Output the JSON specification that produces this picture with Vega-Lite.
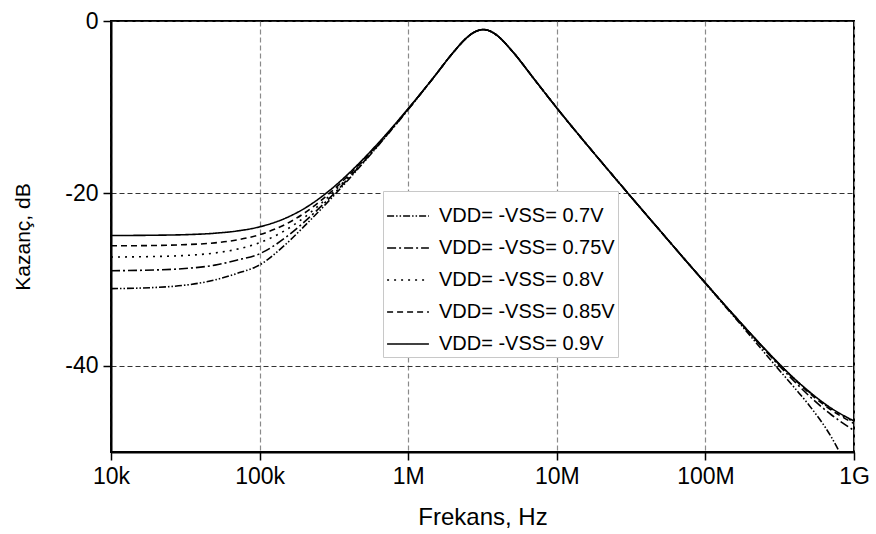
{
  "$schema": "https://vega.github.io/schema/vega-lite/v6.json",
  "autosize": "none",
  "width": 743,
  "height": 431,
  "padding": {"left": 111, "top": 21, "right": 22, "bottom": 82},
  "background": "white",
  "config": {
    "font": "Liberation Sans",
    "view": {"stroke": "black", "strokeWidth": 2},
    "axis": {
      "domainColor": "black", "domainWidth": 2,
      "tickColor": "black", "tickWidth": 1.5, "tickSize": 8,
      "labelFont": "Liberation Sans", "labelFontSize": 23, "labelColor": "black",
      "titleFont": "Liberation Sans", "titleFontSize": 24, "titleFontWeight": "normal", "titleColor": "black"
    }
  },
  "data": {"values": [
    {"f":1e4,"db":-31.05,"s":"0.7"},{"f":2e4,"db":-30.91,"s":"0.7"},{"f":3e4,"db":-30.69,"s":"0.7"},{"f":5e4,"db":-30.04,"s":"0.7"},{"f":7e4,"db":-29.3,"s":"0.7"},{"f":1e5,"db":-28.3,"s":"0.7"},{"f":1.5e5,"db":-25.9,"s":"0.7"},{"f":2e5,"db":-23.8,"s":"0.7"},{"f":3e5,"db":-20.67,"s":"0.7"},{"f":4e5,"db":-18.32,"s":"0.7"},{"f":5e5,"db":-16.44,"s":"0.7"},{"f":7e5,"db":-13.5,"s":"0.7"},{"f":1e6,"db":-10.27,"s":"0.7"},
    {"f":1.5e6,"db":-6.44,"s":"0.7"},{"f":2e6,"db":-3.69,"s":"0.7"},{"f":2.5e6,"db":-1.88,"s":"0.7"},{"f":2.8e6,"db":-1.27,"s":"0.7"},{"f":3.2e6,"db":-1.0,"s":"0.7"},{"f":3.6e6,"db":-1.21,"s":"0.7"},{"f":4e6,"db":-1.73,"s":"0.7"},{"f":5e6,"db":-3.47,"s":"0.7"},{"f":7e6,"db":-6.68,"s":"0.7"},{"f":1e7,"db":-10.09,"s":"0.7"},{"f":1.5e7,"db":-13.8,"s":"0.7"},{"f":2e7,"db":-16.37,"s":"0.7"},{"f":3e7,"db":-19.95,"s":"0.7"},{"f":5e7,"db":-24.41,"s":"0.7"},{"f":7e7,"db":-27.34,"s":"0.7"},
    {"f":1e8,"db":-30.45,"s":"0.7"},{"f":1.5e8,"db":-33.97,"s":"0.7"},{"f":2e8,"db":-36.5,"s":"0.7"},{"f":3e8,"db":-40.1,"s":"0.7"},{"f":4e8,"db":-42.6,"s":"0.7"},{"f":5e8,"db":-44.6,"s":"0.7"},{"f":7e8,"db":-48.2,"s":"0.7"},{"f":1e9,"db":-53.5,"s":"0.7"},

    {"f":1e4,"db":-28.97,"s":"0.75"},{"f":2e4,"db":-28.88,"s":"0.75"},{"f":3e4,"db":-28.74,"s":"0.75"},{"f":5e4,"db":-28.32,"s":"0.75"},{"f":7e4,"db":-27.75,"s":"0.75"},{"f":1e5,"db":-27.0,"s":"0.75"},{"f":1.5e5,"db":-25.1,"s":"0.75"},{"f":2e5,"db":-23.3,"s":"0.75"},{"f":3e5,"db":-20.43,"s":"0.75"},{"f":4e5,"db":-18.18,"s":"0.75"},{"f":5e5,"db":-16.35,"s":"0.75"},{"f":7e5,"db":-13.46,"s":"0.75"},{"f":1e6,"db":-10.25,"s":"0.75"},
    {"f":1.5e6,"db":-6.44,"s":"0.75"},{"f":2e6,"db":-3.69,"s":"0.75"},{"f":2.5e6,"db":-1.88,"s":"0.75"},{"f":2.8e6,"db":-1.27,"s":"0.75"},{"f":3.2e6,"db":-1.0,"s":"0.75"},{"f":3.6e6,"db":-1.21,"s":"0.75"},{"f":4e6,"db":-1.73,"s":"0.75"},{"f":5e6,"db":-3.47,"s":"0.75"},{"f":7e6,"db":-6.68,"s":"0.75"},{"f":1e7,"db":-10.09,"s":"0.75"},{"f":1.5e7,"db":-13.8,"s":"0.75"},{"f":2e7,"db":-16.37,"s":"0.75"},{"f":3e7,"db":-19.95,"s":"0.75"},{"f":5e7,"db":-24.41,"s":"0.75"},{"f":7e7,"db":-27.34,"s":"0.75"},
    {"f":1e8,"db":-30.41,"s":"0.75"},{"f":1.5e8,"db":-33.88,"s":"0.75"},{"f":2e8,"db":-36.3,"s":"0.75"},{"f":3e8,"db":-39.63,"s":"0.75"},{"f":4e8,"db":-41.86,"s":"0.75"},{"f":5e8,"db":-43.5,"s":"0.75"},{"f":7e8,"db":-45.65,"s":"0.75"},{"f":1e9,"db":-47.5,"s":"0.75"},

    {"f":1e4,"db":-27.38,"s":"0.8"},{"f":2e4,"db":-27.32,"s":"0.8"},{"f":3e4,"db":-27.22,"s":"0.8"},{"f":5e4,"db":-26.91,"s":"0.8"},{"f":7e4,"db":-26.49,"s":"0.8"},{"f":1e5,"db":-25.72,"s":"0.8"},{"f":1.5e5,"db":-24.25,"s":"0.8"},{"f":2e5,"db":-22.78,"s":"0.8"},{"f":3e5,"db":-20.17,"s":"0.8"},{"f":4e5,"db":-18.03,"s":"0.8"},{"f":5e5,"db":-16.24,"s":"0.8"},{"f":7e5,"db":-13.4,"s":"0.8"},{"f":1e6,"db":-10.23,"s":"0.8"},
    {"f":1.5e6,"db":-6.44,"s":"0.8"},{"f":2e6,"db":-3.69,"s":"0.8"},{"f":2.5e6,"db":-1.88,"s":"0.8"},{"f":2.8e6,"db":-1.27,"s":"0.8"},{"f":3.2e6,"db":-1.0,"s":"0.8"},{"f":3.6e6,"db":-1.21,"s":"0.8"},{"f":4e6,"db":-1.73,"s":"0.8"},{"f":5e6,"db":-3.47,"s":"0.8"},{"f":7e6,"db":-6.68,"s":"0.8"},{"f":1e7,"db":-10.09,"s":"0.8"},{"f":1.5e7,"db":-13.8,"s":"0.8"},{"f":2e7,"db":-16.37,"s":"0.8"},{"f":3e7,"db":-19.95,"s":"0.8"},{"f":5e7,"db":-24.41,"s":"0.8"},{"f":7e7,"db":-27.34,"s":"0.8"},
    {"f":1e8,"db":-30.39,"s":"0.8"},{"f":1.5e8,"db":-33.83,"s":"0.8"},{"f":2e8,"db":-36.22,"s":"0.8"},{"f":3e8,"db":-39.46,"s":"0.8"},{"f":4e8,"db":-41.57,"s":"0.8"},{"f":5e8,"db":-43.07,"s":"0.8"},{"f":7e8,"db":-45.0,"s":"0.8"},{"f":1e9,"db":-46.5,"s":"0.8"},

    {"f":1e4,"db":-26.08,"s":"0.85"},{"f":2e4,"db":-26.04,"s":"0.85"},{"f":3e4,"db":-25.96,"s":"0.85"},{"f":5e4,"db":-25.74,"s":"0.85"},{"f":7e4,"db":-25.41,"s":"0.85"},{"f":1e5,"db":-24.79,"s":"0.85"},{"f":1.5e5,"db":-23.57,"s":"0.85"},{"f":2e5,"db":-22.29,"s":"0.85"},{"f":3e5,"db":-19.89,"s":"0.85"},{"f":4e5,"db":-17.86,"s":"0.85"},{"f":5e5,"db":-16.13,"s":"0.85"},{"f":7e5,"db":-13.34,"s":"0.85"},{"f":1e6,"db":-10.2,"s":"0.85"},
    {"f":1.5e6,"db":-6.44,"s":"0.85"},{"f":2e6,"db":-3.69,"s":"0.85"},{"f":2.5e6,"db":-1.88,"s":"0.85"},{"f":2.8e6,"db":-1.27,"s":"0.85"},{"f":3.2e6,"db":-1.0,"s":"0.85"},{"f":3.6e6,"db":-1.21,"s":"0.85"},{"f":4e6,"db":-1.73,"s":"0.85"},{"f":5e6,"db":-3.47,"s":"0.85"},{"f":7e6,"db":-6.68,"s":"0.85"},{"f":1e7,"db":-10.09,"s":"0.85"},{"f":1.5e7,"db":-13.8,"s":"0.85"},{"f":2e7,"db":-16.37,"s":"0.85"},{"f":3e7,"db":-19.95,"s":"0.85"},{"f":5e7,"db":-24.41,"s":"0.85"},{"f":7e7,"db":-27.34,"s":"0.85"},
    {"f":1e8,"db":-30.39,"s":"0.85"},{"f":1.5e8,"db":-33.84,"s":"0.85"},{"f":2e8,"db":-36.23,"s":"0.85"},{"f":3e8,"db":-39.5,"s":"0.85"},{"f":4e8,"db":-41.6,"s":"0.85"},{"f":5e8,"db":-43.15,"s":"0.85"},{"f":7e8,"db":-45.1,"s":"0.85"},{"f":1e9,"db":-46.7,"s":"0.85"},

    {"f":1e4,"db":-24.89,"s":"0.9"},{"f":2e4,"db":-24.85,"s":"0.9"},{"f":3e4,"db":-24.8,"s":"0.9"},{"f":5e4,"db":-24.62,"s":"0.9"},{"f":7e4,"db":-24.37,"s":"0.9"},{"f":1e5,"db":-23.88,"s":"0.9"},{"f":1.5e5,"db":-22.86,"s":"0.9"},{"f":2e5,"db":-21.75,"s":"0.9"},{"f":3e5,"db":-19.57,"s":"0.9"},{"f":4e5,"db":-17.65,"s":"0.9"},{"f":5e5,"db":-15.99,"s":"0.9"},{"f":7e5,"db":-13.27,"s":"0.9"},{"f":1e6,"db":-10.16,"s":"0.9"},
    {"f":1.5e6,"db":-6.44,"s":"0.9"},{"f":2e6,"db":-3.69,"s":"0.9"},{"f":2.5e6,"db":-1.88,"s":"0.9"},{"f":2.8e6,"db":-1.27,"s":"0.9"},{"f":3.2e6,"db":-1.0,"s":"0.9"},{"f":3.6e6,"db":-1.21,"s":"0.9"},{"f":4e6,"db":-1.73,"s":"0.9"},{"f":5e6,"db":-3.47,"s":"0.9"},{"f":7e6,"db":-6.68,"s":"0.9"},{"f":1e7,"db":-10.09,"s":"0.9"},{"f":1.5e7,"db":-13.8,"s":"0.9"},{"f":2e7,"db":-16.37,"s":"0.9"},{"f":3e7,"db":-19.95,"s":"0.9"},{"f":5e7,"db":-24.41,"s":"0.9"},{"f":7e7,"db":-27.34,"s":"0.9"},
    {"f":1e8,"db":-30.38,"s":"0.9"},{"f":1.5e8,"db":-33.82,"s":"0.9"},{"f":2e8,"db":-36.2,"s":"0.9"},{"f":3e8,"db":-39.43,"s":"0.9"},{"f":4e8,"db":-41.54,"s":"0.9"},{"f":5e8,"db":-43.0,"s":"0.9"},{"f":7e8,"db":-44.9,"s":"0.9"},{"f":1e9,"db":-46.4,"s":"0.9"}
  ]},
  "mark": {"type": "line", "stroke": "black", "strokeWidth": 1.6, "interpolate": "monotone", "clip": true},
  "encoding": {
    "x": {
      "field": "f", "type": "quantitative",
      "scale": {"type": "log", "domain": [10000, 1000000000], "nice": false},
      "axis": {
        "title": "Frekans, Hz", "titlePadding": 17,
        "values": [10000, 100000, 1000000, 10000000, 100000000, 1000000000],
        "labelExpr": "datum.value < 5e4 ? '10k' : datum.value < 5e5 ? '100k' : datum.value < 5e6 ? '1M' : datum.value < 5e7 ? '10M' : datum.value < 5e8 ? '100M' : '1G'",
        "labelPadding": 5, "labelFlush": false, "labelOverlap": false,
        "grid": true, "gridColor": "#8a8a8a", "gridDash": [5, 3], "gridWidth": 1.2
      }
    },
    "y": {
      "field": "db", "type": "quantitative",
      "scale": {"domain": [-50, 0], "nice": false, "zero": false},
      "axis": {
        "title": "Kazanç, dB", "titlePadding": 31, "titleFontSize": 21,
        "values": [0, -20, -40],
        "labelExpr": "'' + datum.value",
        "labelPadding": 5, "labelFlush": false,
        "grid": true, "gridColor": "#333333", "gridDash": [5, 3], "gridWidth": 1.2
      }
    },
    "strokeDash": {
      "field": "s", "type": "nominal",
      "scale": {
        "domain": ["0.7", "0.75", "0.8", "0.85", "0.9"],
        "range": [[7, 2, 1.5, 2, 1.5, 2], [9, 3, 2, 3], [2, 5], [6, 4], [1, 0]]
      },
      "legend": {
        "title": null,
        "orient": "none", "legendX": 272, "legendY": 170,
        "symbolType": "stroke", "symbolSize": 1750, "symbolStrokeWidth": 1.6, "symbolStrokeColor": "black",
        "labelExpr": "'VDD= -VSS= ' + datum.label + 'V'",
        "labelFont": "Liberation Sans", "labelFontSize": 20, "labelColor": "black", "labelLimit": 400,
        "labelOffset": 9, "rowPadding": 0, "padding": 3,
        "strokeColor": "#c8c8c8", "fillColor": "white"
      }
    }
  }
}
